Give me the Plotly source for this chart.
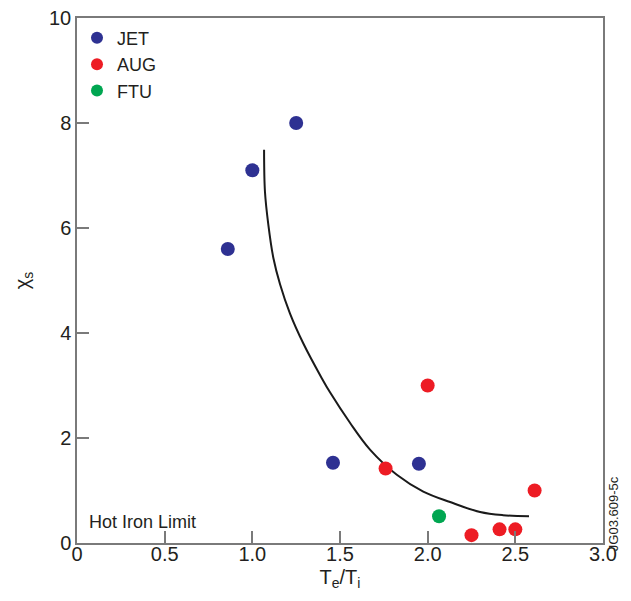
import plotly.graph_objects as go

# Data
jet_x = [0.86, 1.0, 1.25, 1.46, 1.95]
jet_y = [5.6, 7.1, 8.0, 1.53, 1.51]
aug_x = [1.76, 2.0, 2.25, 2.41, 2.50, 2.61]
aug_y = [1.42, 3.0, 0.15, 0.26, 0.26, 1.0]
ftu_x = [2.065]
ftu_y = [0.51]

limit_x = [1.067, 1.072, 1.091, 1.120, 1.158, 1.215, 1.291, 1.396, 1.443, 1.557,
           1.671, 1.824, 1.975, 2.128, 2.299, 2.430, 2.578]
limit_y = [7.49, 6.69, 6.07, 5.43, 4.93, 4.37, 3.80, 3.14, 2.87, 2.29,
           1.78, 1.30, 0.98, 0.78, 0.59, 0.53, 0.51]

x_tickvals = [0, 0.5, 1.0, 1.5, 2.0, 2.5, 3.0]
x_ticktext = ["0", "0.5", "1.0", "1.5", "2.0", "2.5", "3.0"]
y_tickvals = [0, 2, 4, 6, 8, 10]
y_ticktext = ["0", "2", "4", "6", "8", "10"]

FONT = "Liberation Sans, Arial, Helvetica, sans-serif"
AXIS_COLOR = "#7a7a7a"

fig = go.Figure()
fig.add_trace(go.Scatter(x=limit_x, y=limit_y, mode="lines", line=dict(color="#1a1a1a", width=2, shape="spline"),
                         showlegend=False, hoverinfo="skip"))
fig.add_trace(go.Scatter(x=jet_x, y=jet_y, mode="markers", name="JET",
                         marker=dict(color="#2E3192", size=14)))
fig.add_trace(go.Scatter(x=aug_x, y=aug_y, mode="markers", name="AUG",
                         marker=dict(color="#ED1C24", size=14)))
fig.add_trace(go.Scatter(x=ftu_x, y=ftu_y, mode="markers", name="FTU",
                         marker=dict(color="#00A651", size=14)))

# page body has an 8px default margin, so the figure is 8px smaller than the window
fig.update_layout(
    width=623, height=593,
    margin=dict(l=69, r=28, t=10, b=58, autoexpand=False),
    paper_bgcolor="white", plot_bgcolor="white",
    font=dict(family=FONT, size=20, color="#231f20"),
    legend=dict(x=0.0, y=0.997, xanchor="left", yanchor="top", bgcolor="rgba(0,0,0,0)",
                font=dict(size=18), itemsizing="constant", tracegroupgap=0),
    xaxis=dict(range=[0, 3.0], tickvals=x_tickvals, ticktext=x_ticktext, automargin=False,
               showgrid=False, zeroline=False, showline=True, mirror=True,
               linecolor=AXIS_COLOR, linewidth=1.5, ticks="inside", ticklen=12,
               tickcolor=AXIS_COLOR, tickwidth=1.5, ticklabelstandoff=-8,
               ticklabeloverflow="allow",
               title=dict(text="T<sub>e</sub>/T<sub>i</sub>", font=dict(size=20), standoff=6)),
    yaxis=dict(range=[0, 10], tickvals=y_tickvals, ticktext=y_ticktext, automargin=False,
               showgrid=False, zeroline=False, showline=True, mirror=True,
               linecolor=AXIS_COLOR, linewidth=1.5, ticks="inside", ticklen=12,
               tickcolor=AXIS_COLOR, tickwidth=1.5, ticklabeloverflow="allow",
               title=dict(text="χ<sub>s</sub>", font=dict(size=20), standoff=14)),
    annotations=[
        dict(text="Hot Iron Limit", x=0.019, y=0.0175, xref="paper", yref="paper",
             xanchor="left", yanchor="bottom", showarrow=False, font=dict(size=18)),
        dict(text="JG03.609-5c", x=1.0, y=0.055, xref="paper", yref="paper",
             xanchor="center", yanchor="middle", xshift=10, textangle=-90, showarrow=False,
             font=dict(size=13, family="Liberation Sans Narrow, Liberation Sans, Arial")),
    ],
)

fig.write_html("out.html")
